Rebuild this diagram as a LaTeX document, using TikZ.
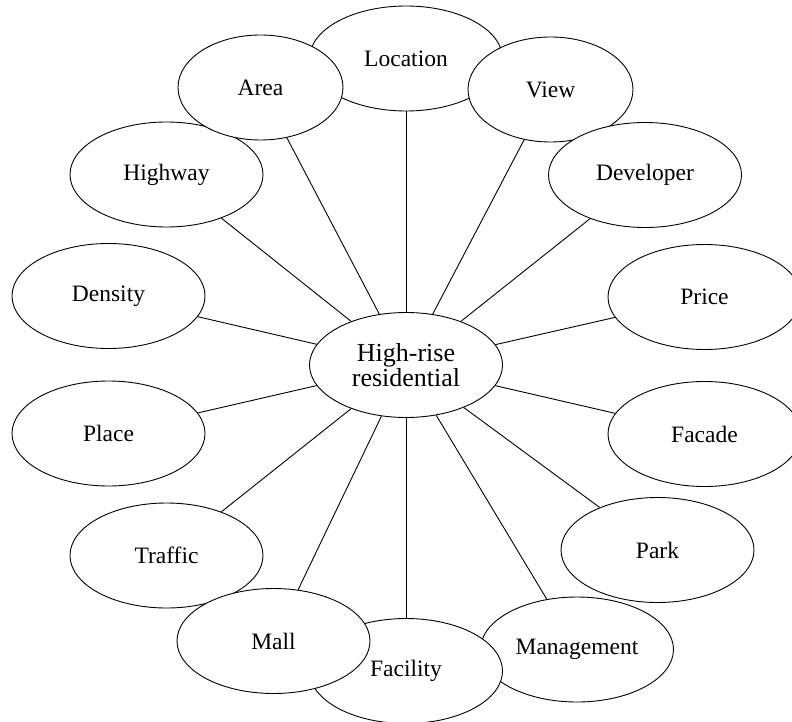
\documentclass[tikz,border=0pt]{standalone}
\usepackage{fontspec}
\setmainfont{Liberation Serif}
\usetikzlibrary{shapes.geometric,backgrounds}

\begin{document}
\begin{tikzpicture}[
    x=1pt, y=-1pt,
    topic/.style={ellipse, draw=black, fill=white, line width=0.9pt,
                  minimum width=193pt, minimum height=105pt, inner sep=0pt,
                  font=\fontsize{23.5}{26}\selectfont},
    hub/.style={topic, align=center, font=\fontsize{26}{25.5}\selectfont},
    spoke/.style={line width=0.9pt}
]
\useasboundingbox (0,0) rectangle (792,722);

% Centre
\node[hub] (hub) at (406,365) {High-rise\\residential};

% Top and right side
\node[topic] (location) at (406,58.5) {Location};
\node[topic, minimum width=165pt] (view) at (550.5,89.5) {View};
\node[topic] (developer) at (645,175) {Developer};
\node[topic] (price) at (704.5,297) {Price};
\node[topic] (facade) at (704.5,434) {Facade};
\node[topic] (park) at (657.5,550) {Park};

% Bottom
\node[topic] (management) at (577,649.5) {Management};
\node[topic] (facility) at (406,671) {Facility};
\node[topic] (traffic) at (166.5,555.5) {Traffic};
\node[topic] (mall) at (273.5,641) {Mall};

% Left side
\node[topic] (place) at (108.5,433.5) {Place};
\node[topic] (density) at (108.5,296) {Density};
\node[topic] (highway) at (166.5,174.5) {Highway};
\node[topic, minimum width=165pt] (area) at (260.5,87.5) {Area};

% Spokes
\begin{scope}[on background layer]
\foreach \n in {location,view,developer,price,facade,park,management,
                facility,mall,traffic,place,density,highway,area}
    \draw[spoke] (hub) -- (\n);
\end{scope}

\end{tikzpicture}
\end{document}
